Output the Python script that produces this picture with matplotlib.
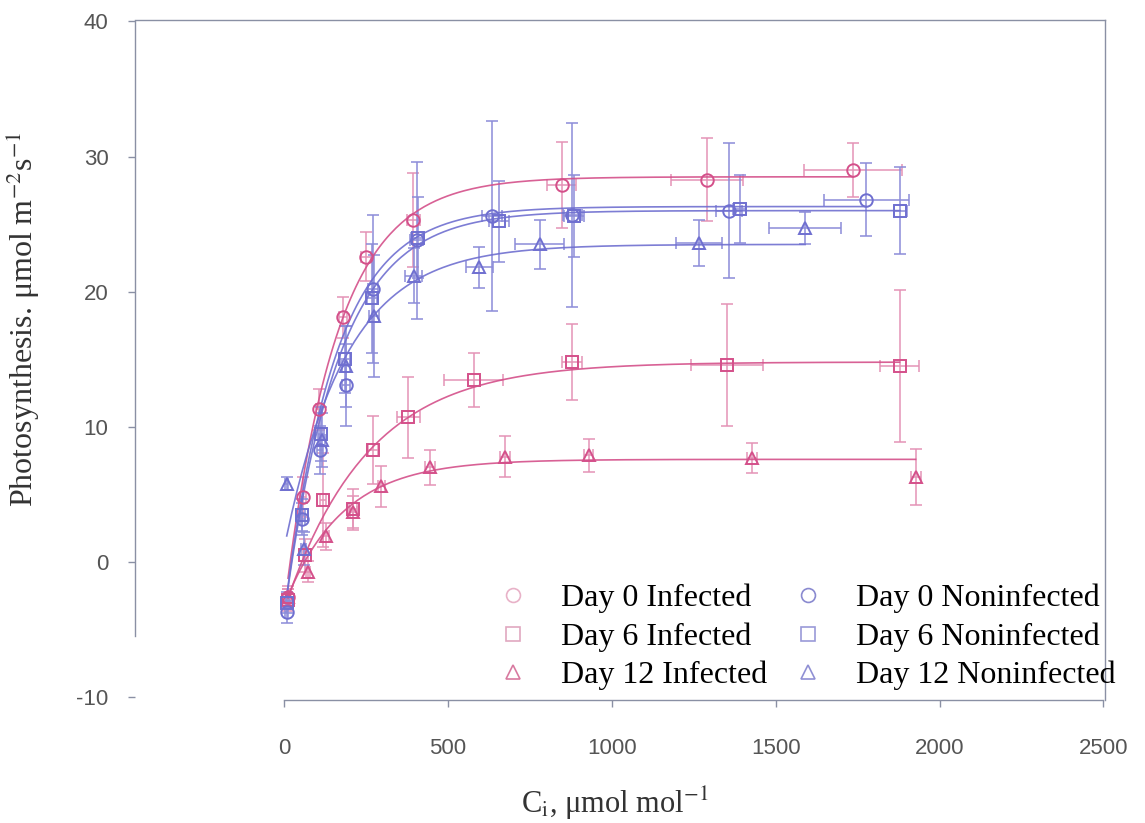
import numpy as np
import matplotlib
matplotlib.use("Agg")
import matplotlib.pyplot as plt
from matplotlib.lines import Line2D

plt.rcParams["mathtext.fontset"] = "stix"
plt.rcParams["axes.unicode_minus"] = False

# ---- data (Ci in umol/mol, A in umol m-2 s-1) ----
labels = ["Day 0 Infected", "Day 6 Infected", "Day 12 Infected",
          "Day 0 Noninfected", "Day 6 Noninfected", "Day 12 Noninfected"]

d0_inf_x = [12, 58, 107, 180, 251, 394, 847, 1290, 1737]
d0_inf_y = [-2.6, 4.8, 11.3, 18.1, 22.6, 25.3, 27.9, 28.3, 29.0]
d0_inf_yerr = [0.8, 1.5, 1.5, 1.5, 1.8, 3.5, 3.2, 3.1, 2.0]
d0_inf_xerr = [5, 8, 10, 12, 15, 20, 45, 110, 150]

d6_inf_x = [12, 65, 119, 210, 272, 379, 578, 878, 1352, 1878]
d6_inf_y = [-2.8, 0.5, 4.6, 3.9, 8.3, 10.7, 13.5, 14.8, 14.6, 14.5]
d6_inf_yerr = [0.8, 1.2, 3.5, 1.5, 2.5, 3.0, 2.0, 2.8, 4.5, 5.6]
d6_inf_xerr = [5, 8, 10, 12, 15, 35, 90, 30, 110, 60]

d12_inf_x = [12, 73, 128, 211, 297, 444, 673, 929, 1428, 1927]
d12_inf_y = [-2.6, -0.7, 1.9, 3.7, 5.6, 7.0, 7.8, 7.9, 7.7, 6.3]
d12_inf_yerr = [0.6, 0.8, 1.0, 1.2, 1.5, 1.3, 1.5, 1.2, 1.1, 2.1]
d12_inf_xerr = [4, 6, 8, 10, 12, 15, 15, 15, 15, 15]

d0_non_x = [8, 55, 110, 190, 272, 405, 635, 880, 1357, 1777]
d0_non_y = [-3.7, 3.2, 8.3, 13.1, 20.2, 23.8, 25.6, 25.7, 26.0, 26.8]
d0_non_yerr = [0.8, 1.2, 1.8, 3.0, 5.5, 5.8, 7.0, 6.8, 5.0, 2.7]
d0_non_xerr = [5, 8, 10, 12, 15, 20, 30, 30, 40, 130]

d6_non_x = [10, 55, 112, 185, 268, 408, 655, 885, 1390, 1880]
d6_non_y = [-3.0, 3.5, 9.5, 15.0, 19.5, 24.0, 25.2, 25.6, 26.1, 26.0]
d6_non_yerr = [0.8, 1.2, 2.0, 2.5, 4.0, 3.0, 3.0, 3.0, 2.5, 3.2]
d6_non_xerr = [5, 8, 10, 15, 15, 20, 30, 30, 20, 20]

d12_non_x = [8, 60, 115, 190, 275, 395, 596, 780, 1265, 1590]
d12_non_y = [5.8, 1.0, 9.0, 14.5, 18.2, 21.2, 21.8, 23.5, 23.6, 24.7]
d12_non_yerr = [0.5, 1.2, 2.0, 3.0, 4.5, 2.0, 1.5, 1.8, 1.7, 1.2]
d12_non_xerr = [4, 8, 10, 12, 15, 25, 40, 75, 70, 110]

# fitted curves: A = Amax - (Amax - A0) * exp(-Ci / tau)
fit_a0 = [-3.5, -3.5, -3.2, -4.0, -4.0, 1.0]
fit_amax = [28.5, 14.8, 7.6, 26.3, 26.0, 23.5]
fit_tau = [160, 253, 176, 156, 165, 188]

xs = [d0_inf_x, d6_inf_x, d12_inf_x, d0_non_x, d6_non_x, d12_non_x]
ys = [d0_inf_y, d6_inf_y, d12_inf_y, d0_non_y, d6_non_y, d12_non_y]
yerrs = [d0_inf_yerr, d6_inf_yerr, d12_inf_yerr, d0_non_yerr, d6_non_yerr, d12_non_yerr]
xerrs = [d0_inf_xerr, d6_inf_xerr, d12_inf_xerr, d0_non_xerr, d6_non_xerr, d12_non_xerr]

PINK = "#d4508a"
PINK_LIGHT = "#e493b6"
BLUE = "#6f6fd0"
BLUE_LIGHT = "#8c8cd8"
markers = ["o", "s", "^", "o", "s", "^"]
colors = [PINK, PINK, PINK, BLUE, BLUE, BLUE]
ecolors = [PINK_LIGHT, PINK_LIGHT, PINK_LIGHT, BLUE_LIGHT, BLUE_LIGHT, BLUE_LIGHT]

fig = plt.figure(figsize=(11.45, 8.23), dpi=100)
ax = fig.add_axes([135 / 1145, 1 - 700 / 823, 970 / 1145, 680 / 823])

for i in range(6):
    x = np.array(xs[i], dtype=float)
    y = np.array(ys[i], dtype=float)
    ax.errorbar(x, y, yerr=yerrs[i], xerr=xerrs[i], fmt="none",
                ecolor=ecolors[i], elinewidth=1.1, capsize=4, capthick=1.1, zorder=2)
    ax.plot(x, y, linestyle="none", marker=markers[i], ms=9, mfc="none",
            mec=colors[i], mew=1.4, zorder=3)
    xx = np.linspace(x.min(), x.max(), 200)
    yy = fit_amax[i] - (fit_amax[i] - fit_a0[i]) * np.exp(-xx / fit_tau[i])
    ax.plot(xx, yy, color=colors[i], lw=1.2, alpha=0.9, zorder=2.5)

ax.set_xlim(-455, 2505)
ax.set_ylim(-10.2, 40.1)
ax.set_xticks([0, 500, 1000, 1500, 2000, 2500])
ax.set_yticks([-10, 0, 10, 20, 30, 40])

for s in ax.spines.values():
    s.set_color("#8a90a4")
    s.set_linewidth(1.0)
ax.spines["left"].set_bounds(-5.5, 40)
ax.spines["bottom"].set_bounds(0, 2500)

ax.tick_params(axis="both", colors="#8a90a4", labelcolor="#555555",
               labelsize=16, length=5, width=1)
ax.tick_params(axis="x", pad=22)
ax.tick_params(axis="y", pad=14)
for lab in ax.get_xticklabels() + ax.get_yticklabels():
    lab.set_family("Liberation Sans")

ax.set_ylabel("Photosynthesis. μmol m$^{-2}$s$^{-1}$", family="Liberation Serif",
              fontsize=23, color="#333333")
ax.yaxis.set_label_coords(-0.096, 0.56)
ax.set_xlabel("C$_{\\mathrm{i}}$, μmol mol$^{-1}$", family="Liberation Serif",
              fontsize=22, color="#333333")
ax.xaxis.set_label_coords(0.495, -0.125)

leg_colors = ["#e8b2c8", "#e0a8c0", "#d87aa0", "#8a8ad0", "#9a9ad8", "#9090d4"]
handles = [Line2D([], [], linestyle="none", marker=markers[i], ms=10, mfc="none",
                  mec=leg_colors[i], mew=1.2) for i in range(6)]
ax.legend(handles, labels, ncol=2, loc="lower right", bbox_to_anchor=(1.031, -0.014),
          frameon=False, prop={"family": "Liberation Serif", "size": 23},
          handletextpad=0.75, columnspacing=0.55, labelspacing=0.28,
          handlelength=1.5, borderaxespad=0.2)

fig.savefig("out.png", dpi=100)
